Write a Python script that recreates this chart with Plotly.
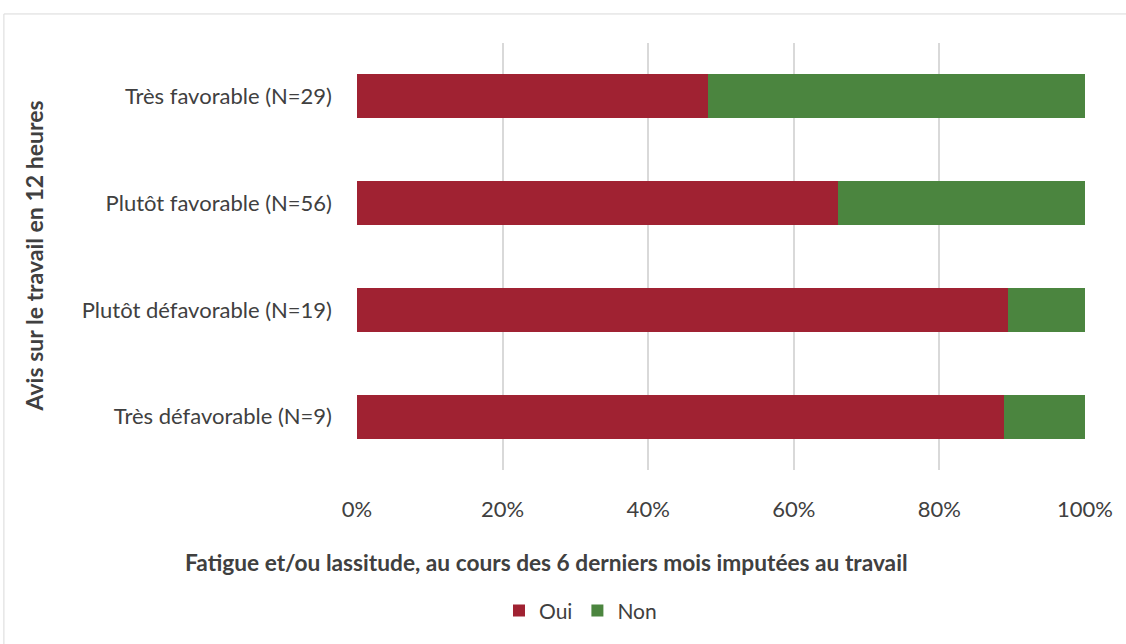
import plotly.graph_objects as go

# avis sur le travail en 12 heures (de haut en bas)
categories = [
    "Très favorable (N=29)",
    "Plutôt favorable (N=56)",
    "Plutôt défavorable (N=19)",
    "Très défavorable (N=9)",
]
oui_counts = [14, 37, 17, 8]
non_counts = [15, 19, 2, 1]
x_ticks = [0, 20, 40, 60, 80, 100]
x_tick_labels = ["0%", "20%", "40%", "60%", "80%", "100%"]

FONT = "Lato"
TEXT = "#404040"

fig = go.Figure()
fig.add_trace(go.Bar(y=categories, x=oui_counts, name="Oui", orientation="h",
                     marker=dict(color="#A02232", line_width=0)))
fig.add_trace(go.Bar(y=categories, x=non_counts, name="Non", orientation="h",
                     marker=dict(color="#4B853F", line_width=0)))

fig.update_layout(
    width=1126, height=644,
    barmode="stack", barnorm="percent", bargap=0.59,
    plot_bgcolor="white", paper_bgcolor="white",
    margin=dict(l=357, r=41, t=43, b=174),
    font=dict(family=FONT, size=22, color=TEXT),
    showlegend=True,
    legend=dict(orientation="h", x=0.307, xanchor="center", y=-0.33, yanchor="middle",
                font=dict(size=21, color=TEXT), traceorder="normal"),
    xaxis=dict(range=[0, 100], tickvals=x_ticks, ticktext=x_tick_labels, showgrid=True,
               gridcolor="#D9D9D9", gridwidth=1.5, zeroline=False, showline=False,
               ticks="", ticklabelstandoff=24),
    yaxis=dict(autorange="reversed", showgrid=False, ticks="", ticklabelstandoff=24,
               showline=False),
    annotations=[
        dict(text="<b>Fatigue et/ou lassitude, au cours des 6 derniers mois imputées au travail</b>",
             xref="paper", yref="paper", x=0.26, y=-0.217, showarrow=False,
             font=dict(size=22.7, color=TEXT), xanchor="center", yanchor="middle"),
        dict(text="<b>Avis sur le travail en 12 heures</b>", textangle=-90,
             xref="paper", yref="paper", x=-0.445, y=0.5, showarrow=False,
             font=dict(size=23, color=TEXT), xanchor="center", yanchor="middle"),
    ],
    shapes=[
        dict(type="rect", xref="paper", yref="paper", x0=-0.485, x1=1.2, y0=-0.6, y1=1.068,
             line=dict(color="#D9D9D9", width=1), layer="below"),
    ],
)

fig.write_html("out.html", config={"displayModeBar": False},
               post_script="document.body.style.margin='0px';")
